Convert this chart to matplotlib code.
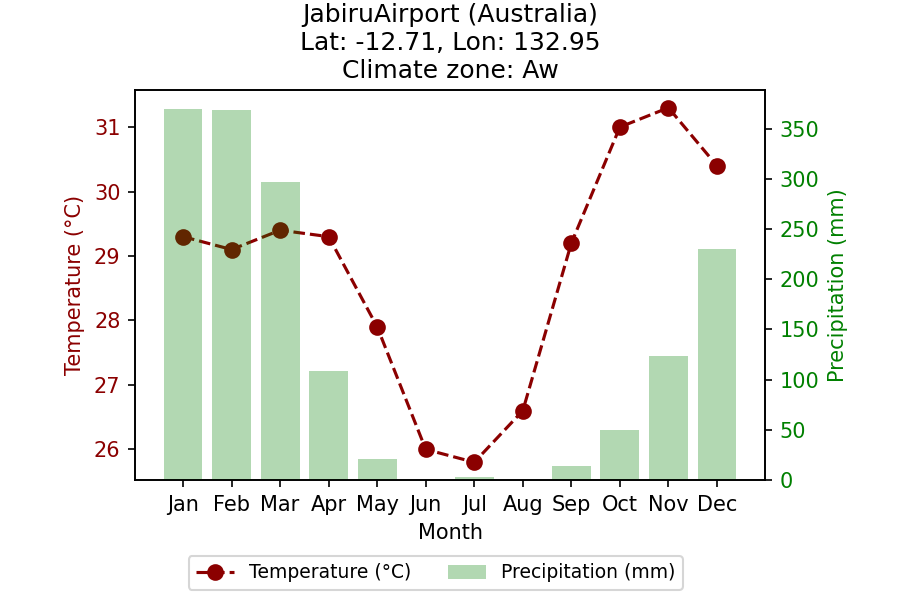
import matplotlib
matplotlib.use('Agg')
import matplotlib.pyplot as plt

# Monthly climate normals, Jabiru Airport
months = ['Jan', 'Feb', 'Mar', 'Apr', 'May', 'Jun',
          'Jul', 'Aug', 'Sep', 'Oct', 'Nov', 'Dec']
temperature = [29.3, 29.1, 29.4, 29.3, 27.9, 26.0, 25.8, 26.6, 29.2, 31.0, 31.3, 30.4]
precipitation = [370, 369, 297, 109, 21, 0, 3, 0, 14, 50, 124, 230]

title = 'JabiruAirport (Australia)\nLat: -12.71, Lon: 132.95\nClimate zone: Aw'


def make_chart():
    fig, ax1 = plt.subplots(figsize=(6, 4), dpi=150)
    fig.subplots_adjust(left=0.15, right=0.85, top=0.85, bottom=0.2)

    # --- left axis: temperature ---
    temp_color = 'darkred'
    line, = ax1.plot(months, temperature, color=temp_color, linestyle='--',
                     marker='o', markersize=7, label='Temperature (°C)')
    ax1.set_xlabel('Month')
    ax1.set_ylabel('Temperature (°C)', color=temp_color)
    ax1.tick_params(axis='y', labelcolor=temp_color)

    # --- right axis: precipitation (bars drawn on top, translucent) ---
    ax2 = ax1.twinx()
    bars = ax2.bar(months, precipitation, color='green', alpha=0.3,
                   width=0.8, label='Precipitation (mm)')
    ax2.set_ylabel('Precipitation (mm)', color='green')
    ax2.tick_params(axis='y', labelcolor='green')

    ax1.set_title(title)

    fig.legend([line, bars], ['Temperature (°C)', 'Precipitation (mm)'],
               loc='center', bbox_to_anchor=(0.484, 0.045), ncol=2, fontsize=9)

    fig.savefig('out.png', dpi=150)


if __name__ == '__main__':
    make_chart()
